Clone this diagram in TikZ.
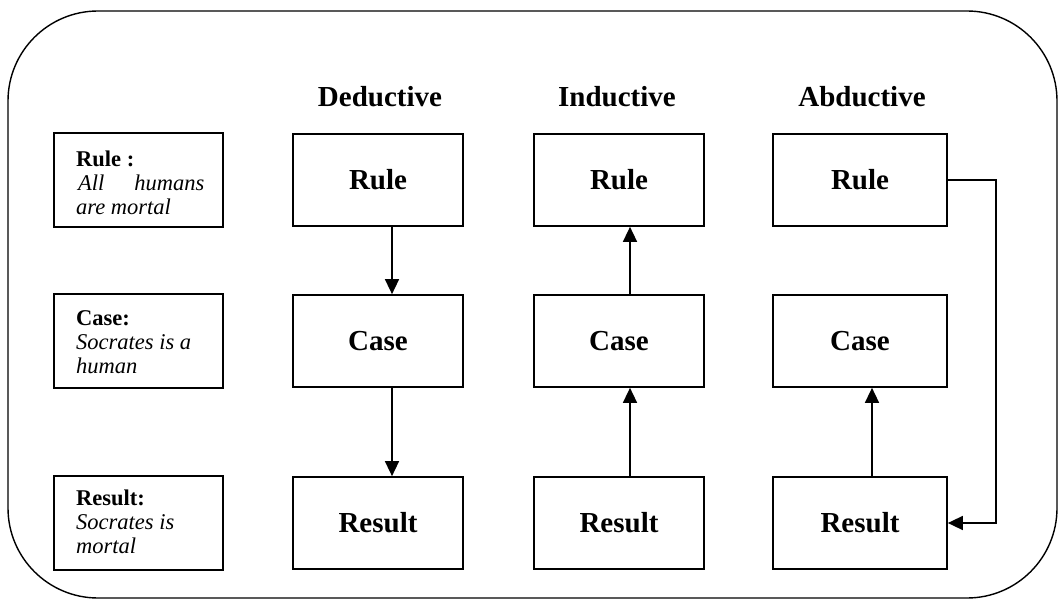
\documentclass[tikz,border=0pt]{standalone}
\usepackage{fontspec}
\setmainfont{Liberation Serif}
\usetikzlibrary{arrows.meta}

\begin{document}
\begin{tikzpicture}[x=1pt,y=-1pt,
  stagebox/.style={draw,line width=1.7pt,minimum width=170pt,minimum height=92pt,
    inner sep=0pt,font=\fontsize{29}{32}\selectfont\bfseries},
  notebox/.style={draw,line width=1.7pt,minimum width=169pt,minimum height=94pt,inner sep=0pt},
  notetext/.style={anchor=north west,align=left,inner sep=0pt,
    font=\fontsize{22.5}{24}\selectfont},
  head/.style={font=\fontsize{29}{32}\selectfont\bfseries},
  arr/.style={line width=1.5pt,-{Triangle[length=15pt,width=14pt]}}]

\useasboundingbox (0,0) rectangle (1059,601);

% outer frame
\draw[line width=1.4pt,rounded corners=90pt] (8,11) rectangle (1057,598);

% column headings
\node[head] (hd) at (380,97) {Deductive};
\node[head] (hi) at (617,97) {Inductive};
\node[head] (ha) at (862,97) {Abductive};

% example boxes on the left
\node[notebox] (nrule) at (138.5,180) {};
\node[notebox] (ncase) at (138.5,341) {};
\node[notebox] (nres)  at (138.5,523) {};
\node[notetext] (trule) at (76,151) {\textbf{Rule :}\\ \hspace{2pt}\textit{All}\hspace{30pt}\textit{humans}\\ \textit{are mortal}};
\node[notetext] (tcase) at (76,310) {\textbf{Case:}\\ \textit{Socrates is a}\\ \textit{human}};
\node[notetext] (tres)  at (76,490) {\textbf{Result:}\\ \textit{Socrates is}\\ \textit{mortal}};

% deductive column
\node[stagebox] (drule) at (378,180) {Rule};
\node[stagebox] (dcase) at (378,341) {Case};
\node[stagebox] (dres)  at (378,523) {Result};
\draw[arr] ([xshift=14pt]drule.south) -- ([xshift=14pt]dcase.north);
\draw[arr] ([xshift=14pt]dcase.south) -- ([xshift=14pt]dres.north);

% inductive column
\node[stagebox] (irule) at (619,180) {Rule};
\node[stagebox] (icase) at (619,341) {Case};
\node[stagebox] (ires)  at (619,523) {Result};
\draw[arr] ([xshift=11pt]icase.north) -- ([xshift=11pt]irule.south);
\draw[arr] ([xshift=11pt]ires.north) -- ([xshift=11pt]icase.south);

% abductive column
\node[stagebox,minimum width=174pt] (arule) at (860,180) {Rule};
\node[stagebox,minimum width=174pt] (acase) at (860,341) {Case};
\node[stagebox,minimum width=174pt] (ares)  at (860,523) {Result};
\draw[arr] ([xshift=12pt]ares.north) -- ([xshift=12pt]acase.south);
\draw[arr] (arule.east) -- ++(48,0) |- (ares.east);

\end{tikzpicture}
\end{document}
